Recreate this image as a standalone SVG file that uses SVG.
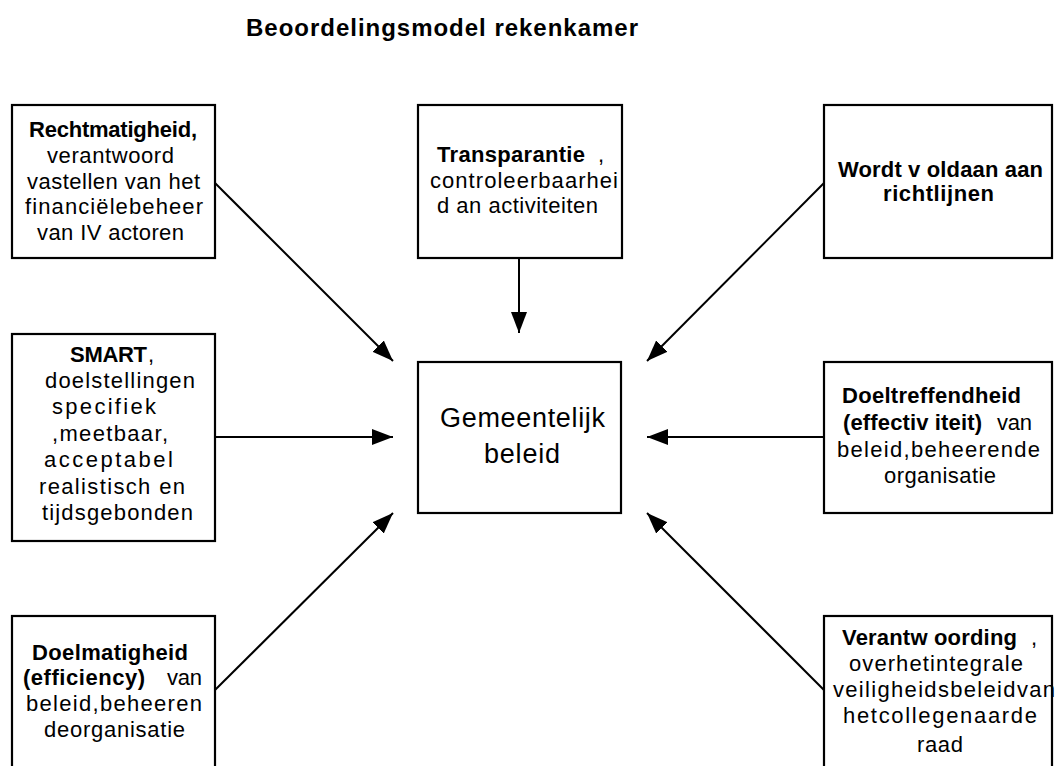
<svg xmlns="http://www.w3.org/2000/svg" width="1055" height="766" viewBox="0 0 1055 766">
  <style>
    text { font-family: "Liberation Sans", Arial, sans-serif; font-size: 22px; fill: #000; }
    .b { font-weight: bold; }
    .title { font-size: 24px; font-weight: bold; }
    .big { font-size: 27px; }
    .box { fill: #fff; stroke: #000; stroke-width: 2.2; }
    .conn { stroke: #000; stroke-width: 2; fill: none; marker-end: url(#ah); }
  </style>
  <defs>
    <marker id="ah" markerUnits="userSpaceOnUse" markerWidth="22" markerHeight="16" refX="21" refY="8" orient="auto">
      <path d="M0,0 L21,8 L0,16 z" fill="#000"/>
    </marker>
  </defs>

  <rect width="1055" height="766" fill="#fff"/>

  <text class="title" x="246" y="36" textLength="392" lengthAdjust="spacing">Beoordelingsmodel rekenkamer</text>

  <!-- connectors into the central box -->
  <g id="connectors">
    <line class="conn" x1="215" y1="183" x2="393" y2="361"/>
    <line class="conn" x1="519" y1="258" x2="519" y2="333"/>
    <line class="conn" x1="824" y1="183" x2="647" y2="361"/>
    <line class="conn" x1="215" y1="437" x2="393" y2="437"/>
    <line class="conn" x1="824" y1="437" x2="647" y2="437"/>
    <line class="conn" x1="215" y1="690" x2="393" y2="513"/>
    <line class="conn" x1="824" y1="690" x2="647" y2="513"/>
  </g>

  <g id="rechtmatigheid">
    <rect class="box" x="12" y="105" width="203" height="153"/>
    <text class="b" x="29" y="137" textLength="168" lengthAdjust="spacing">Rechtmatigheid,</text>
    <text x="47" y="163" textLength="127" lengthAdjust="spacing">verantwoord</text>
    <text x="27" y="189" textLength="173" lengthAdjust="spacing">vastellen van het</text>
    <text x="25" y="214" textLength="178" lengthAdjust="spacing">financiëlebeheer</text>
    <text x="37" y="240" textLength="147" lengthAdjust="spacing">van IV actoren</text>
  </g>

  <g id="transparantie">
    <rect class="box" x="418" y="105" width="204" height="153"/>
    <text class="b" x="437" y="162" textLength="148" lengthAdjust="spacing">Transparantie</text>
    <text x="598" y="162">,</text>
    <text x="430" y="188" textLength="188" lengthAdjust="spacing">controleerbaarhei</text>
    <text x="437" y="213" textLength="161" lengthAdjust="spacing">d an activiteiten</text>
  </g>

  <g id="richtlijnen">
    <rect class="box" x="824" y="105" width="228" height="153"/>
    <text class="b" x="838" y="177" textLength="205" lengthAdjust="spacing">Wordt v oldaan aan</text>
    <text class="b" x="883" y="201" textLength="111" lengthAdjust="spacing">richtlijnen</text>
  </g>

  <g id="smart">
    <rect class="box" x="12" y="334" width="203" height="207"/>
    <text class="b" x="70" y="362" textLength="77" lengthAdjust="spacing">SMART</text>
    <text x="148" y="362">,</text>
    <text x="45" y="388" textLength="150" lengthAdjust="spacing">doelstellingen</text>
    <text x="52" y="414" textLength="104" lengthAdjust="spacing">specifiek</text>
    <text x="52" y="441" textLength="116" lengthAdjust="spacing">,meetbaar,</text>
    <text x="44" y="467" textLength="129" lengthAdjust="spacing">acceptabel</text>
    <text x="39" y="494" textLength="146" lengthAdjust="spacing">realistisch en</text>
    <text x="42" y="520" textLength="151" lengthAdjust="spacing">tijdsgebonden</text>
  </g>

  <g id="gemeentelijk-beleid">
    <rect class="box" x="418" y="362" width="203" height="151"/>
    <text class="big" x="440" y="427" textLength="165" lengthAdjust="spacing">Gemeentelijk</text>
    <text class="big" x="484" y="463" textLength="76" lengthAdjust="spacing">beleid</text>
  </g>

  <g id="doeltreffendheid">
    <rect class="box" x="824" y="362" width="228" height="151"/>
    <text class="b" x="842" y="403" textLength="179" lengthAdjust="spacing">Doeltreffendheid</text>
    <text class="b" x="843" y="430" textLength="139" lengthAdjust="spacing">(effectiv iteit)</text>
    <text x="997" y="430" textLength="35" lengthAdjust="spacing">van</text>
    <text x="837" y="457" textLength="203" lengthAdjust="spacing">beleid,beheerende</text>
    <text x="884" y="483" textLength="112" lengthAdjust="spacing">organisatie</text>
  </g>

  <g id="doelmatigheid">
    <rect class="box" x="12" y="616" width="203" height="170"/>
    <text class="b" x="32" y="660" textLength="156" lengthAdjust="spacing">Doelmatigheid</text>
    <text class="b" x="23" y="685" textLength="122" lengthAdjust="spacing">(efficiency)</text>
    <text x="167" y="685" textLength="35" lengthAdjust="spacing">van</text>
    <text x="26" y="711" textLength="176" lengthAdjust="spacing">beleid,beheeren</text>
    <text x="44" y="737" textLength="141" lengthAdjust="spacing">deorganisatie</text>
  </g>

  <g id="verantwoording">
    <rect class="box" x="824" y="616" width="228" height="170"/>
    <text class="b" x="842" y="645" textLength="175" lengthAdjust="spacing">Verantw oording</text>
    <text x="1031" y="645">,</text>
    <text x="849" y="671" textLength="174" lengthAdjust="spacing">overhetintegrale</text>
    <text x="833" y="697" textLength="222" lengthAdjust="spacing">veiligheidsbeleidvan</text>
    <text x="843" y="723" textLength="194" lengthAdjust="spacing">hetcollegenaarde</text>
    <text x="917" y="752" textLength="46" lengthAdjust="spacing">raad</text>
  </g>
</svg>
